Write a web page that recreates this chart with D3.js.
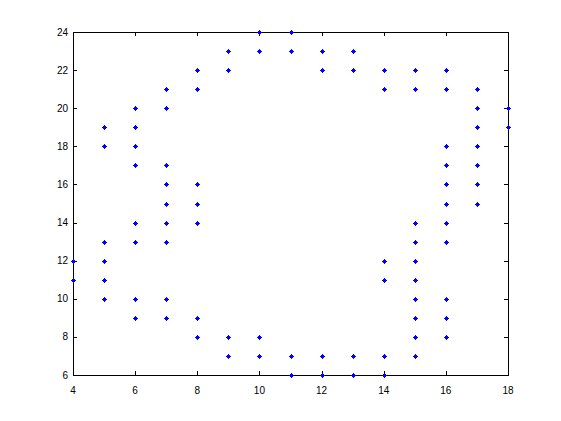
<!DOCTYPE html>
<html><head><meta charset="utf-8">
<script src="https://cdn.jsdelivr.net/npm/d3@7"></script>
<style>body{margin:0;background:#fff}svg{display:block}text{font-family:"Liberation Sans",Arial,sans-serif;font-size:10px}</style>
</head><body>
<script>
const xValues = [4,4, 5,5,5,5,5,5, 6,6,6,6,6,6,6,6, 7,7,7,7,7,7,7,7,7, 8,8,8,8,8,8,8, 9,9,9,9, 10,10,10,10, 11,11,11,11, 12,12,12,12, 13,13,13,13, 14,14,14,14,14,14, 15,15,15,15,15,15,15,15,15,15, 16,16,16,16,16,16,16,16,16,16,16, 17,17,17,17,17,17,17, 18,18];
const yValues = [12,11, 19,18,13,12,11,10, 20,19,18,17,14,13,10,9, 21,20,17,16,15,14,13,10,9, 22,21,16,15,14,9,8, 23,22,8,7, 24,23,8,7, 24,23,7,6, 23,22,7,6, 23,22,7,6, 22,21,12,11,7,6, 22,21,14,13,12,11,10,9,8,7, 22,21,18,17,16,15,14,13,10,9,8, 21,20,19,18,17,16,15, 20,19];
const xTicks = [4,6,8,10,12,14,16,18];
const yTicks = [6,8,10,12,14,16,18,20,22,24];

const W=561,H=421, L=73, R=508, T=32, B=375;
const svg=d3.select("body").append("svg").attr("width",W).attr("height",H);
const x=d3.scaleLinear().domain([4,18]).range([L,R]);
const y=d3.scaleLinear().domain([6,24]).range([B,T]);

// ticks
const g=svg.append("g").attr("shape-rendering","crispEdges");
xTicks.forEach(t=>{
  const px=Math.round(x(t))+0.5;
  g.append("line").attr("x1",px).attr("x2",px).attr("y1",B).attr("y2",B-4).attr("stroke","#000");
  g.append("line").attr("x1",px).attr("x2",px).attr("y1",T).attr("y2",T+4).attr("stroke","#000");
  svg.append("text").attr("x",x(t)).attr("y",B+19).attr("text-anchor","middle").text(t);
});
yTicks.forEach(t=>{
  const py=Math.round(y(t))+0.5;
  g.append("line").attr("x1",L).attr("x2",L+4).attr("y1",py).attr("y2",py).attr("stroke","#000");
  g.append("line").attr("x1",R).attr("x2",R-4).attr("y1",py).attr("y2",py).attr("stroke","#000");
  svg.append("text").attr("x",L-5).attr("y",y(t)+3.5).attr("text-anchor","end").text(t);
});
g.append("rect").attr("x",L+0.5).attr("y",T+0.5).attr("width",R-L).attr("height",B-T).attr("fill","none").attr("stroke","#000");

// markers
const mk="M-0.5,-2.5h1v1h1v1h1v1h-1v1h-1v1h-1v-1h-1v-1h-1v-1h1v-1h1z";
svg.append("g").selectAll("path").data(xValues.map((v,i)=>[v,yValues[i]])).join("path")
  .attr("transform",d=>`translate(${Math.round(x(d[0]))+0.5},${Math.round(y(d[1]))+0.5})`)
  .attr("d",mk).attr("fill","#0000ff");
</script>
</body></html>
